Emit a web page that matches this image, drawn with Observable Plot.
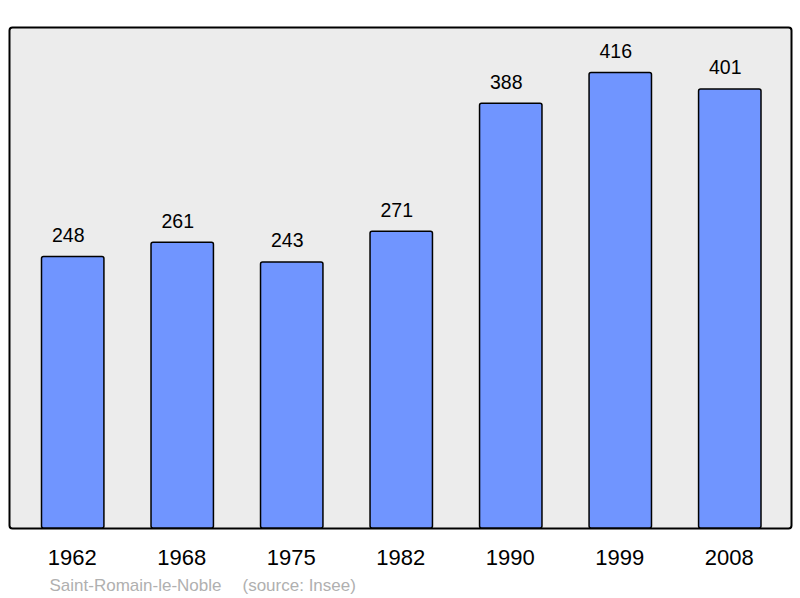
<!DOCTYPE html>
<html>
<head>
<meta charset="utf-8">
<script src="https://cdn.jsdelivr.net/npm/d3@7"></script>
<script src="https://cdn.jsdelivr.net/npm/@observablehq/plot@0.6"></script>
<style>
  html, body { margin: 0; padding: 0; background: #ffffff; }
  svg { display: block; }
</style>
</head>
<body>
<div id="chart"></div>
<script>
const years = ["1962", "1968", "1975", "1982", "1990", "1999", "2008"];
const population = [248, 261, 243, 271, 388, 416, 401];
const captionTexts = ["Saint-Romain-le-Noble", "(source: Insee)"];

const data = years.map((year, i) => ({year, value: population[i]}));
const font = "Liberation Sans, Arial, Helvetica, sans-serif";

const chart = Plot.plot({
  width: 800,
  height: 598,
  marginLeft: 9,
  marginRight: 9,
  marginTop: 27,
  marginBottom: 70,
  style: {fontFamily: font, background: "#ffffff"},
  x: {
    type: "band",
    domain: years,
    range: [41.5, 761],
    paddingInner: 0.43,
    paddingOuter: 0,
    round: false,
    label: null,
    tickSize: 0,
    tickPadding: 21
  },
  y: {domain: [0, 457.6], axis: null},
  marks: [
    Plot.frame({fill: "#ececec", stroke: "#000000", strokeWidth: 2, rx: 3}),
    Plot.barY(data, {x: "year", y: "value", fill: "#7095ff", stroke: "#000000", strokeWidth: 1.5, rx: 2}),
    Plot.text(data, {x: "year", y: "value", text: d => String(d.value), lineAnchor: "bottom", dx: -5, dy: -15, fontSize: 19.5, fill: "#000000"}),
    Plot.axisX({tickSize: 0, tickPadding: 21, fontSize: 22, fill: "#000000", label: null, dx: -1}),
    Plot.text([captionTexts[0]], {frameAnchor: "bottom-left", text: d => d, textAnchor: "start", lineAnchor: "bottom", dx: 40, dy: 62, fontSize: 17, fill: "#b0b0b0"}),
    Plot.text([captionTexts[1]], {frameAnchor: "bottom-left", text: d => d, textAnchor: "start", lineAnchor: "bottom", dx: 233, dy: 62, fontSize: 17, fill: "#b0b0b0"})
  ]
});
document.getElementById("chart").appendChild(chart);
</script>
</body>
</html>
